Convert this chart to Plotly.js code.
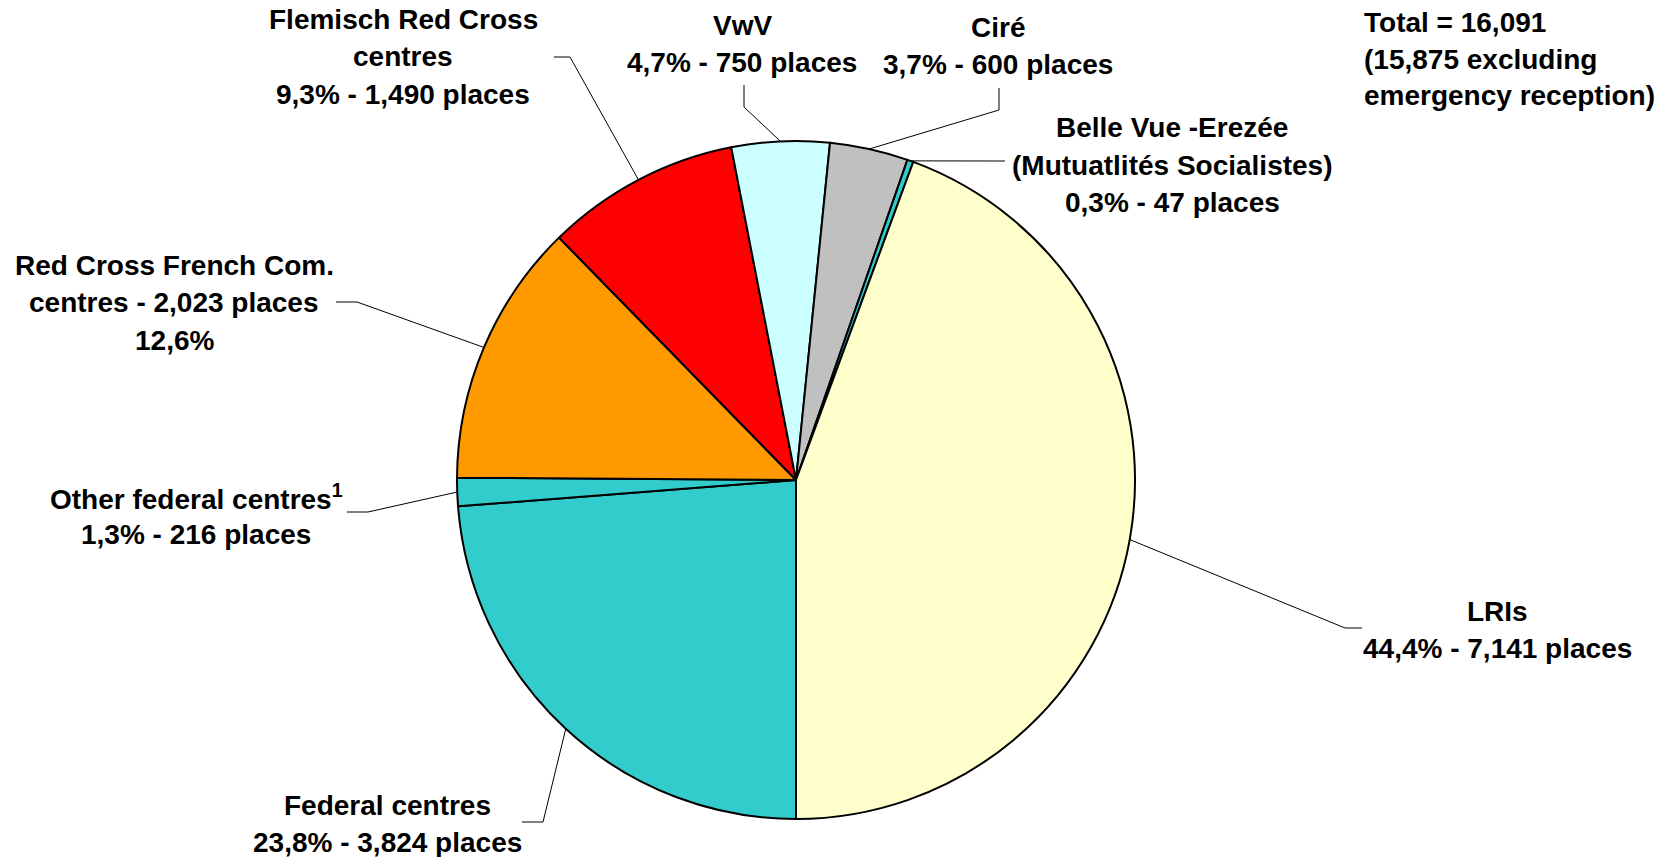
<!DOCTYPE html>
<html><head><meta charset="utf-8">
<script src="https://cdn.plot.ly/plotly-3.0.1.min.js"></script>
<style>html,body{margin:0;padding:0;background:#fff}#chart{width:1668px;height:857px}</style>
</head><body><div id="chart"></div>
<script>
// ---- data ----
const categories = ['Federal centres','Other federal centres','Red Cross French Com. centres','Flemisch Red Cross centres','VwV','Ciré','Belle Vue -Erezée (Mutuatlités Socialistes)','LRIs'];
const places = [3824, 216, 2023, 1490, 750, 600, 47, 7141];
const sliceColors = ['#33CCCC','#33CCCC','#FF9900','#FF0000','#CCFFFF','#C0C0C0','#33CCCC','#FFFFCC'];
const labelLines = [
  ['Federal centres','23,8% - 3,824 places'],
  ['Other federal centres<sup>1</sup>','1,3% - 216 places'],
  ['Red Cross French Com.','centres - 2,023 places','12,6%'],
  ['Flemisch Red Cross','centres','9,3% - 1,490 places'],
  ['VwV','4,7% - 750 places'],
  ['Ciré','3,7% - 600 places'],
  ['Belle Vue -Erezée','(Mutuatlités Socialistes)','0,3% - 47 places'],
  ['LRIs','44,4% - 7,141 places']
];
const totalNote = ['Total = 16,091','(15,875 excluding','emergency reception)'];

// ---- layout geometry (pixels) ----
const W = 1668, H = 857, CX = 796, CY = 480, R = 339, STEP = 37.5;
const labelLayout = [
  {x: 387,  y: 805, elbow: [[522,822],[543,822]]},
  {x: 196,  y: 497, elbow: [[347,512],[368,512]]},
  {x: 174,  y: 265, elbow: [[336,302],[357,302]]},
  {x: 403,  y: 19,  elbow: [[554,57],[570,57]]},
  {x: 742,  y: 25,  elbow: [[744,85],[744,107]]},
  {x: 998,  y: 27,  elbow: [[999,88],[999,110]]},
  {x: 1172, y: 128, elbow: [[1005,161]]},
  {x: 1497, y: 611, elbow: [[1362,628],[1345,628]]}
];
const px = x => x / W;
const py = y => 1 - y / H;
const font = {family: 'Liberation Sans, Arial, sans-serif', size: 28, color: '#000', weight: 700};

const total = places.reduce((a, b) => a + b, 0);
const annotations = [];
const shapes = [];
let cum = 0;
places.forEach((v, i) => {
  const mid = (180 + 360 * (cum + v / 2) / total) * Math.PI / 180;
  cum += v;
  const ex = CX + R * Math.sin(mid), ey = CY - R * Math.cos(mid);
  const L = labelLayout[i];
  labelLines[i].forEach((t, k) => {
    annotations.push({text: t, x: px(L.x), y: py(L.y + k * STEP), xref: 'paper', yref: 'paper',
      xanchor: 'center', yanchor: 'middle', showarrow: false, font: font});
  });
  const pts = L.elbow.concat([[ex, ey]]);
  const path = pts.map((p, k) => (k ? 'L' : 'M') + px(p[0]) + ',' + py(p[1])).join(' ');
  shapes.push({type: 'path', path: path, xref: 'paper', yref: 'paper', line: {color: '#000', width: 1}});
});
totalNote.forEach((t, k) => {
  annotations.push({text: t, x: px(1362), y: py(23 + k * 36), xref: 'paper', yref: 'paper',
    xanchor: 'left', yanchor: 'middle', showarrow: false, font: font});
});

const trace = {
  type: 'pie', labels: categories, values: places, sort: false,
  direction: 'clockwise', rotation: 180, textinfo: 'none',
  marker: {colors: sliceColors, line: {color: '#000', width: 2}},
  domain: {x: [px(CX - R), px(CX + R)], y: [py(CY + R), py(CY - R)]},
  showlegend: false
};
Plotly.newPlot('chart', [trace], {
  width: W, height: H, margin: {l: 0, r: 0, t: 0, b: 0},
  paper_bgcolor: '#fff', showlegend: false,
  annotations: annotations, shapes: shapes
}, {displayModeBar: false, staticPlot: true});
</script>
</body></html>
